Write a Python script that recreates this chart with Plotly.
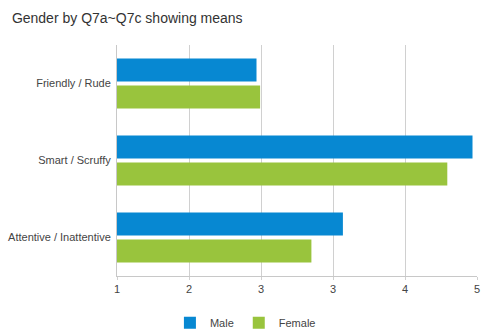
import plotly.graph_objects as go

categories = ["Friendly / Rude", "Smart / Scruffy", "Attentive / Inattentive"]
male = [2.55, 4.95, 3.51]
female = [2.59, 4.67, 3.16]
tick_vals = [1, 1.8, 2.6, 3.4, 4.2, 5]
tick_text = ["1", "2", "3", "3", "4", "5"]

fig = go.Figure()
fig.add_trace(go.Bar(y=categories, x=male, name="Male", orientation="h",
                     marker=dict(color="#0788d2", line=dict(width=0))))
fig.add_trace(go.Bar(y=categories, x=female, name="Female", orientation="h",
                     marker=dict(color="#99c43d", line=dict(width=0))))

fig.update_layout(
    width=495, height=335,
    margin=dict(l=117, r=18, t=45, b=59, autoexpand=False),
    paper_bgcolor="white", plot_bgcolor="white",
    font=dict(family="Arial", size=12, color="#444444"),
    title=dict(text="Gender by Q7a~Q7c showing means", x=0.024, xanchor="left",
               y=0.945, yanchor="middle", font=dict(family="Arial", size=14, color="#333333")),
    barmode="group", bargap=0.3, bargroupgap=0.15,
    showlegend=True,
    legend=dict(orientation="h", x=0.147, xanchor="left", y=-0.14, yanchor="top",
                font=dict(family="Arial", size=11, color="#444444"), itemwidth=30,
                traceorder="normal"),
    xaxis=dict(range=[1, 5], tickvals=tick_vals, ticktext=tick_text,
               showgrid=True, gridcolor="#d0d0d0", gridwidth=1,
               showline=True, linecolor="#c8c8c8", linewidth=1,
               ticks="outside", ticklen=3, tickcolor="#d0d0d0",
               zeroline=False, automargin=False,
               tickfont=dict(family="Arial", size=11, color="#444444")),
    yaxis=dict(categoryorder="array", categoryarray=categories, autorange="reversed",
               showline=True, linecolor="#c8c8c8", linewidth=1, automargin=False,
               ticks="", ticklabelstandoff=3,
               tickfont=dict(family="Arial", size=11, color="#444444")),
)

fig.write_html("out.html")
